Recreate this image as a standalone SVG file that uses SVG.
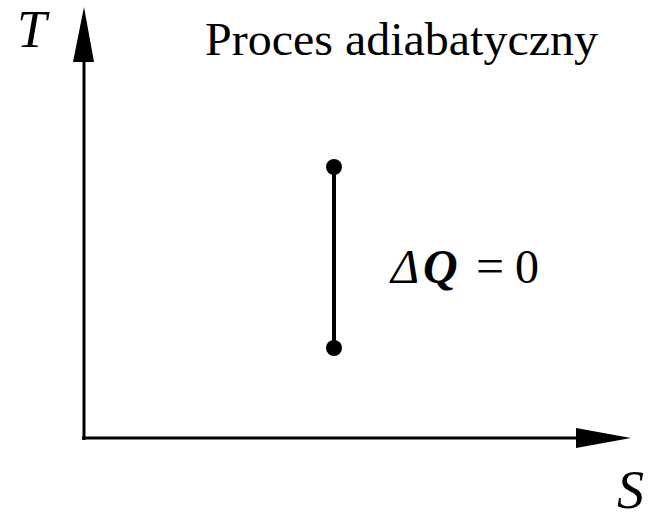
<svg xmlns="http://www.w3.org/2000/svg" width="656" height="517" viewBox="0 0 656 517">
<style>
.ax{stroke:#000;stroke-width:3;fill:none}
.t{font-family:"Liberation Serif",serif;fill:#000}
.i{font-style:italic}
</style>
<rect width="656" height="517" fill="#fff"/>
<g id="connectors">
<line class="ax" x1="84" y1="440" x2="84" y2="55"/>
<polygon points="84,7 94,62 73,62" fill="#000"/>
<line class="ax" x1="82" y1="438" x2="580" y2="438"/>
<polygon points="631,438 576,428 576,448" fill="#000"/>
<line x1="334" y1="167" x2="334" y2="348" stroke="#000" stroke-width="4"/>
</g>
<g id="p1"><circle cx="334" cy="167" r="8"/></g>
<g id="p2"><circle cx="334" cy="348" r="8"/></g>
<g id="labels">
<text class="t i" x="17" y="47" font-size="53">T</text>
<text class="t" x="205" y="55" font-size="47" textLength="393" lengthAdjust="spacingAndGlyphs">Proces adiabatyczny</text>
<text class="t i" x="391" y="283" font-size="48">Δ</text>
<text class="t i" x="423" y="283" font-size="48" font-weight="bold">Q</text>
<text class="t" x="476" y="283" font-size="50">=</text>
<text class="t" x="515" y="283" font-size="48">0</text>
<text class="t i" x="617" y="508" font-size="54">S</text>
</g>
</svg>
